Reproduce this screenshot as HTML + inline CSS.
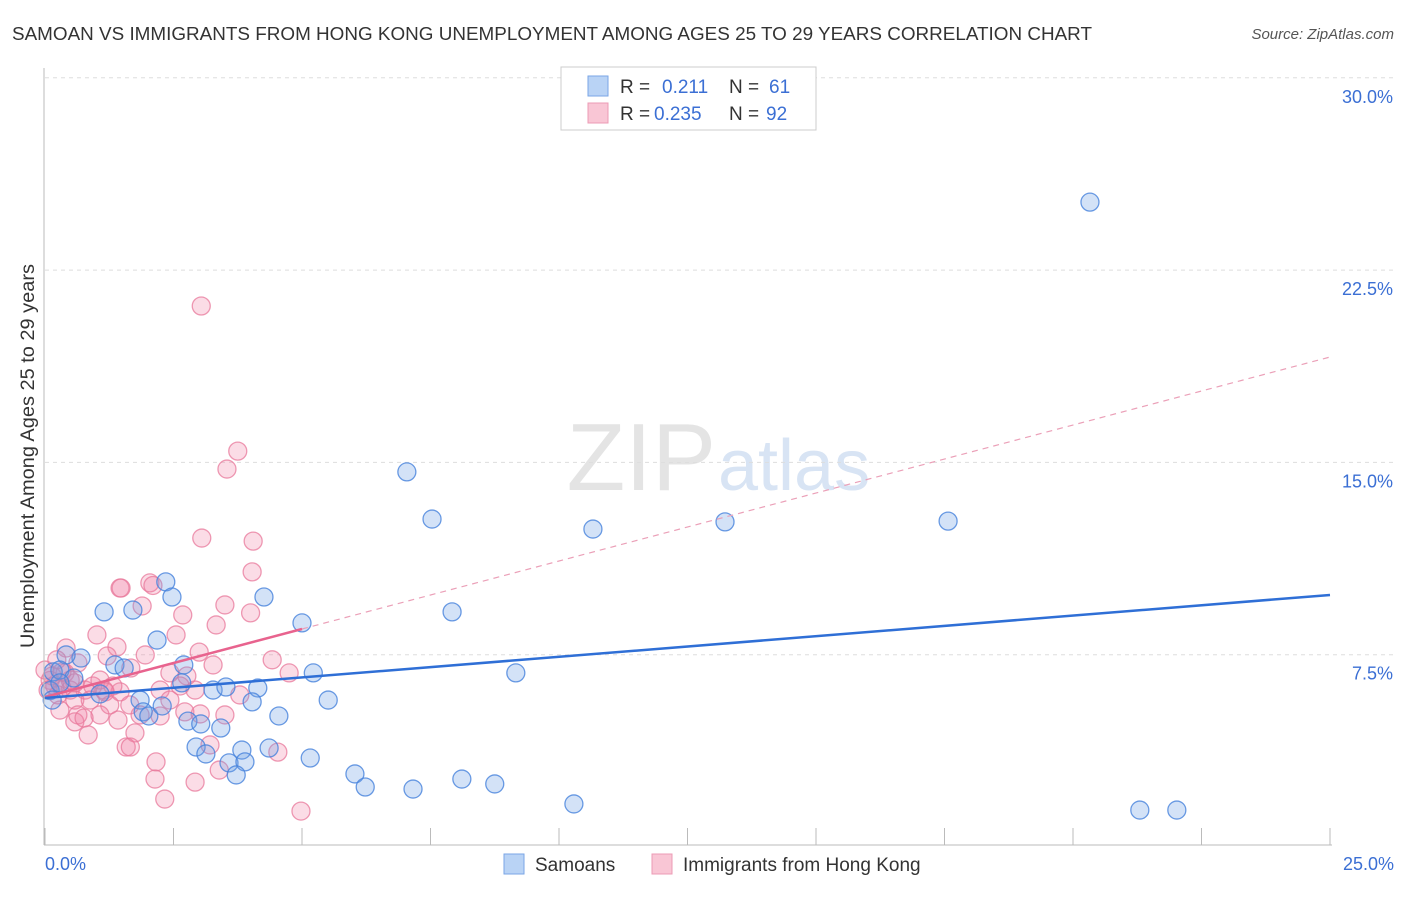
<!DOCTYPE html>
<html><head><meta charset="utf-8"><style>
body{margin:0;background:#fff;font-family:"Liberation Sans",sans-serif;}
svg text{font-family:"Liberation Sans",sans-serif;}
</style></head><body>
<svg id="chart" width="1406" height="892" xmlns="http://www.w3.org/2000/svg">
<text x="12" y="40" font-size="18" fill="#333" textLength="1080" lengthAdjust="spacingAndGlyphs">SAMOAN VS IMMIGRANTS FROM HONG KONG UNEMPLOYMENT AMONG AGES 25 TO 29 YEARS CORRELATION CHART</text>
<text x="1394" y="39" font-size="15" fill="#555" text-anchor="end" font-style="italic">Source: ZipAtlas.com</text>
<text x="716" y="490" font-size="96" fill="#e4e4e4" text-anchor="end" font-family="Liberation Serif">ZIP</text>
<text x="718" y="490" font-size="72" fill="#d8e4f4">atlas</text>
<text transform="translate(34,456) rotate(-90)" font-size="19" fill="#333" text-anchor="middle" textLength="384" lengthAdjust="spacingAndGlyphs">Unemployment Among Ages 25 to 29 years</text>
<g id="grid"></g><g id="marks"></g>
<line x1="44" y1="68" x2="44" y2="845" stroke="#bbb"/>
<line x1="44" y1="845" x2="1332" y2="845" stroke="#bbb"/>
<text x="45" y="870" font-size="18" fill="#3b6fd4">0.0%</text>
<text x="1394" y="870" font-size="18" fill="#3b6fd4" text-anchor="end">25.0%</text>
<g>
<rect x="561" y="67" width="255" height="63" fill="#fff" stroke="#ccc"/>
<rect x="588" y="76" width="20" height="20" fill="#b9d3f5" stroke="#7aa6e6"/>
<rect x="588" y="103" width="20" height="20" fill="#f9c6d5" stroke="#ec9bb5"/>
<text x="620" y="93" font-size="19" fill="#333">R = </text><text x="662" y="93" font-size="19" fill="#3b6fd4">0.211</text>
<text x="729" y="93" font-size="19" fill="#333">N = </text><text x="769" y="93" font-size="19" fill="#3b6fd4">61</text>
<text x="620" y="120" font-size="19" fill="#333">R = </text><text x="654" y="120" font-size="19" fill="#3b6fd4">0.235</text>
<text x="729" y="120" font-size="19" fill="#333">N = </text><text x="766" y="120" font-size="19" fill="#3b6fd4">92</text>
</g>
<g>
<rect x="504" y="854" width="20" height="20" fill="#b9d3f5" stroke="#7aa6e6"/>
<text x="535" y="871" font-size="19" fill="#333">Samoans</text>
<rect x="652" y="854" width="20" height="20" fill="#f9c6d5" stroke="#ec9bb5"/>
<text x="683" y="871" font-size="19" fill="#333">Immigrants from Hong Kong</text>
</g>
</svg>
<script>
const yTicks=[7.5,15,22.5,30];
const yTickLabels=["7.5%","15.0%","22.5%","30.0%"];
const xTickVals=[0,2.5,5,7.5,10,12.5,15,17.5,20,22.5,25];
const blueX=[20.33,7.04,7.53,10.66,13.23,17.57,7.92,2.35,2.47,1.15,1.71,4.26,5.0,2.18,0.70,0.41,1.36,1.54,2.70,5.22,9.16,0.16,0.29,0.56,1.07,2.66,3.27,3.52,4.14,1.85,1.91,2.02,2.28,4.03,4.55,5.51,2.78,3.03,3.42,2.94,3.13,3.83,4.36,3.58,3.89,3.72,5.16,6.03,6.23,7.16,8.11,8.75,10.29,21.30,22.02,0.1,0.29,0.14];
const blueY=[25.15,14.63,12.79,12.40,12.68,12.71,9.17,10.34,9.75,9.17,9.24,9.75,8.74,8.07,7.37,7.49,7.10,6.98,7.10,6.79,6.79,6.83,6.9,6.59,5.97,6.40,6.12,6.24,6.20,5.73,5.27,5.11,5.50,5.66,5.11,5.73,4.91,4.80,4.64,3.90,3.63,3.78,3.86,3.28,3.32,2.81,3.47,2.85,2.34,2.26,2.65,2.46,1.68,1.44,1.44,6.1,6.4,5.73];
const pinkX=[3.04,3.75,3.54,3.05,4.05,4.03,1.46,1.48,2.04,2.1,1.89,3.5,2.68,4.0,3.33,1.01,2.55,1.40,0.41,1.95,3.0,1.21,4.42,3.27,2.43,2.76,4.75,0.64,1.67,0.23,0.1,0.19,0.33,0.06,0.49,0.78,0.93,1.15,1.46,2.24,2.63,2.92,3.79,0.58,0.88,1.26,1.65,2.43,2.72,3.02,3.5,0.29,0.64,1.07,1.42,1.85,2.24,0.58,0.76,0.84,1.75,1.58,1.66,3.21,4.53,2.16,2.14,2.92,3.39,2.33,4.98,0,0.14,0.39,0.58,1.07,1.32,0.25,0.49,1.17,0.33];
const pinkY=[21.1,15.44,14.74,12.05,11.93,10.73,10.1,10.1,10.3,10.2,9.4,9.44,9.05,9.13,8.66,8.27,8.27,7.8,7.76,7.49,7.6,7.45,7.3,7.1,6.79,6.67,6.79,7.18,6.98,7.3,6.5,6.28,6.2,6.12,6.12,6.12,6.28,6.12,6.05,6.12,6.28,6.12,5.93,5.73,5.73,5.54,5.54,5.73,5.27,5.19,5.15,5.34,5.15,5.15,4.95,5.15,5.11,4.88,5.03,4.37,4.45,3.9,3.9,3.98,3.7,3.32,2.65,2.53,3.0,1.87,1.40,6.9,6.67,6.79,6.4,6.51,6.28,5.93,6.51,6.05,6.83];
const blueTrend=[5.81,9.83];
const pinkTrend=[5.85,19.11];
const pinkSolidEnd=5;

const sx=v=>45+v/25*1285;
const sy=v=>847-v*25.64;
const NS="http://www.w3.org/2000/svg";
const grid=document.getElementById('grid'),marks=document.getElementById('marks');
function mk(tag,attrs,parent){const e=document.createElementNS(NS,tag);for(const k in attrs)e.setAttribute(k,attrs[k]);parent.appendChild(e);return e;}
yTicks.forEach((t,i)=>{
 const l=mk('line',{x1:45,x2:1394,y1:sy(t),y2:sy(t),stroke:'#ddd','stroke-dasharray':'4,4'},grid);
 
 
 const tx=mk('text',{x:1393,y:sy(t)+25,'font-size':18,fill:'#3b6fd4','text-anchor':'end'},grid);
 tx.textContent=yTickLabels[i];
 
 
});
xTickVals.forEach(v=>{
 const l=mk('line',{x1:sx(v),x2:sx(v),y1:828,y2:845,stroke:'#bbb'},grid);
 
 
});
pinkX.forEach((x,i)=>{
 const c=mk('circle',{cx:sx(x),cy:sy(pinkY[i]),r:9,fill:'rgba(240,130,165,0.28)',stroke:'rgba(232,120,155,0.75)','stroke-width':1.3},marks);
 
 
});
blueX.forEach((x,i)=>{
 const c=mk('circle',{cx:sx(x),cy:sy(blueY[i]),r:9,fill:'rgba(110,160,230,0.3)',stroke:'rgba(70,130,220,0.8)','stroke-width':1.3},marks);
 
 
});
const pAt=v=>pinkTrend[0]+(pinkTrend[1]-pinkTrend[0])*v/25;
let l1=mk('line',{x1:sx(pinkSolidEnd),y1:sy(pAt(pinkSolidEnd)),x2:sx(25),y2:sy(pinkTrend[1]),stroke:'#eba0b8','stroke-width':1.2,'stroke-dasharray':'6,5'},marks);


let l2=mk('line',{x1:sx(0),y1:sy(pinkTrend[0]),x2:sx(pinkSolidEnd),y2:sy(pAt(pinkSolidEnd)),stroke:'#e8638e','stroke-width':2.5},marks);


let l3=mk('line',{x1:sx(0),y1:sy(blueTrend[0]),x2:sx(25),y2:sy(blueTrend[1]),stroke:'#2f6fd6','stroke-width':2.5},marks);


</script>
</body></html>
